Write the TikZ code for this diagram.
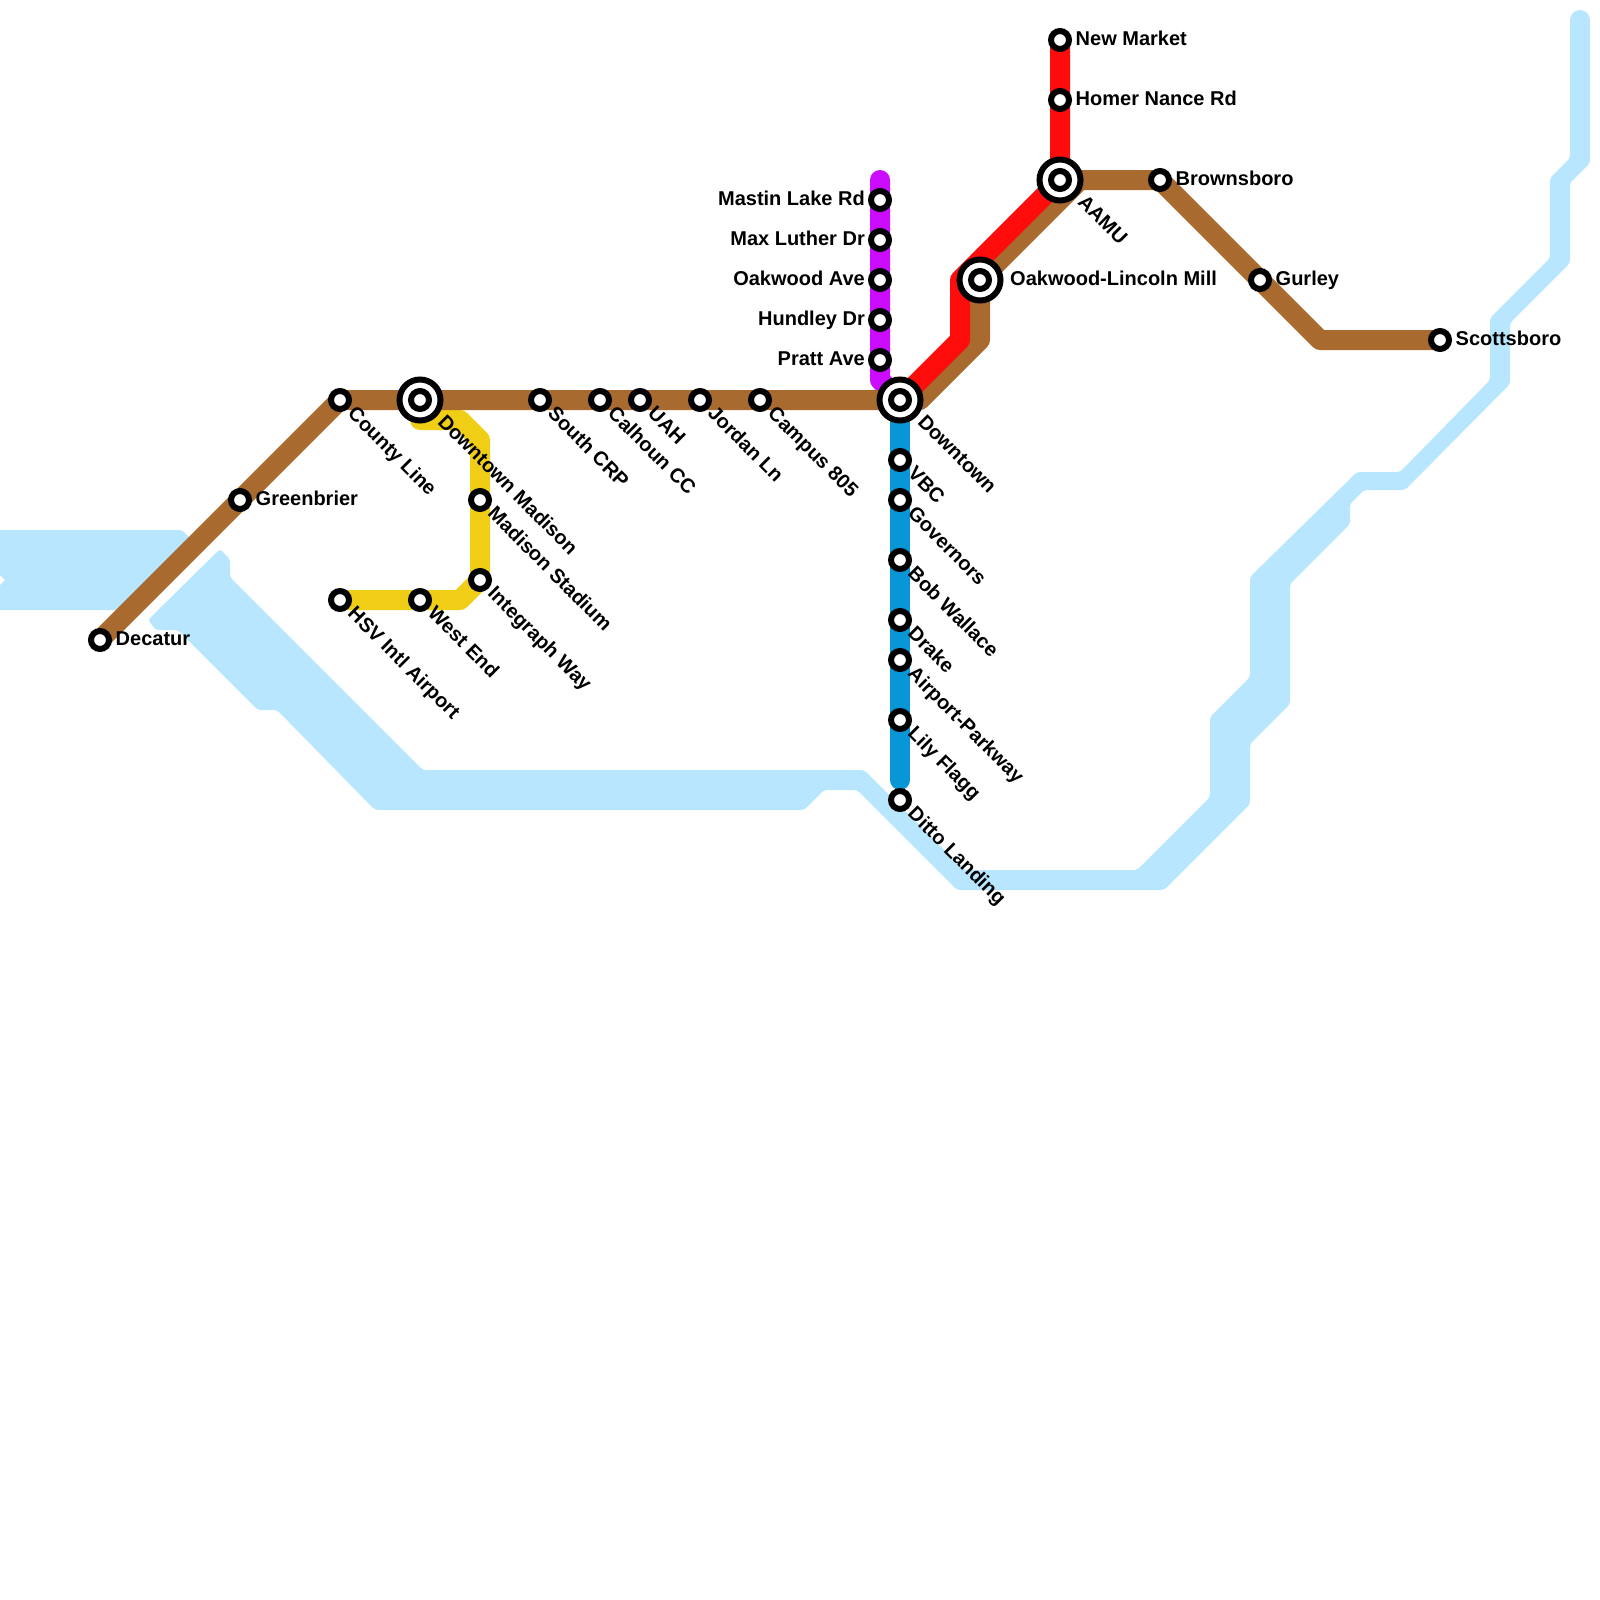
\documentclass[tikz,border=0pt]{standalone}
\usepackage{fontspec}
\setmainfont{Liberation Sans}
\usetikzlibrary{calc}
\pgfdeclarelayer{bg}
\pgfsetlayers{bg,main}
\definecolor{water}{HTML}{B8E6FF}
\definecolor{brownline}{HTML}{A86A2E}
\definecolor{redline}{HTML}{FF0D0D}
\definecolor{yellowline}{HTML}{F0CE15}
\definecolor{blueline}{HTML}{0896D7}
\definecolor{purpleline}{HTML}{CC0CFF}
\tikzset{
  stn/.style={circle,draw=black,fill=white,line width=6pt,outer sep=0pt,minimum size=18pt,inner sep=0pt},
  hub/.style={circle,draw=black,fill=white,line width=6pt,outer sep=0pt,minimum size=41pt,inner sep=0pt},
  lab/.style={font=\fontsize{20}{23}\selectfont\bfseries,inner sep=0pt,text=black,text height=14pt,text depth=4pt},
  diaglab/.style={lab,anchor=west,rotate=-45},
  rightlab/.style={lab,anchor=west},
  leftlab/.style={lab,anchor=east},
  metro/.style={line width=20pt,line cap=round,line join=round},
  waterbody/.style={fill=water,draw=none,rounded corners=3pt}
}
\begin{document}
\begin{tikzpicture}[x=1pt,y=-1pt]
\useasboundingbox (0,0) rectangle (1600,1600);
% stations
\foreach \n/\x/\y in {decatur/100/640,greenbrier/240/500,county/340/400,southcrp/540/400,calhoun/600/400,uah/640/400,jordan/700/400,campus/760/400,
  vbc/900/460,governors/900/500,bobwallace/900/560,drake/900/620,airport/900/660,lily/900/720,ditto/900/800,
  mastin/880/200,maxluther/880/240,oakave/880/280,hundley/880/320,pratt/880/360,
  newmarket/1060/40,homer/1060/100,brownsboro/1160/180,gurley/1260/280,scottsboro/1440/340,
  hsv/340/600,westend/420/600,integraph/480/580,madstadium/480/500}
  {\node[stn] (\n) at (\x,\y) {};}
\foreach \n/\x/\y in {dtmadison/420/400,downtown/900/400,oakwood/980/280,aamu/1060/180}
  {\node[hub] (\n) at (\x,\y) {};\node[stn] (\n-in) at (\x,\y) {};}
% bends
\coordinate (b1) at (980,340);
\coordinate (b2) at (920,400);
\coordinate (b3) at (1080,180);
\coordinate (b4) at (1320,340);
\coordinate (b5) at (960,280);
\coordinate (b6) at (960,340);
\coordinate (y1) at (460,600);
\coordinate (y2) at (480,440);
\coordinate (y3) at (460,420);
\coordinate (y4) at (420,420);
\coordinate (p1) at (880,180);
\coordinate (p2) at (880,380);
\coordinate (bl1) at (900,780);
% labels
\foreach \n/\t in {county/County Line,southcrp/South CRP,calhoun/Calhoun CC,uah/UAH,jordan/Jordan Ln,campus/Campus 805,
  vbc/VBC,governors/Governors,bobwallace/Bob Wallace,drake/Drake,airport/Airport-Parkway,lily/Lily Flagg,ditto/Ditto Landing,
  hsv/HSV Intl Airport,westend/West End,integraph/Integraph Way,madstadium/Madison Stadium}
  {\node[diaglab] (\n-lab) at ($(\n)+(10.2,11.2)$) {\t};}
\node[diaglab] (dtmadison-lab) at ($(dtmadison)+(20.2,19.4)$) {Downtown Madison};
\node[diaglab] (downtown-lab) at ($(downtown)+(20.2,19.4)$) {Downtown};
\node[diaglab] (aamu-lab) at ($(aamu)+(20.2,19.4)$) {AAMU};
\foreach \n/\t in {decatur/Decatur,greenbrier/Greenbrier,newmarket/New Market,homer/Homer Nance Rd,brownsboro/Brownsboro,gurley/Gurley,scottsboro/Scottsboro}
  {\node[rightlab] (\n-lab) at ($(\n)+(15.5,0.5)$) {\t};}
\node[rightlab] (oakwood-lab) at ($(oakwood)+(30,0.5)$) {Oakwood-Lincoln Mill};
\foreach \n/\t in {mastin/Mastin Lake Rd,maxluther/Max Luther Dr,oakave/Oakwood Ave,hundley/Hundley Dr,pratt/Pratt Ave}
  {\node[leftlab] (\n-lab) at ($(\n)+(-15,0.5)$) {\t};}
\begin{pgfonlayer}{bg}
% water
\fill[waterbody] (-20,530) -- (182,530) -- (192,540) -- (122,610) -- (-20,610) -- (-20,595) -- (-10,595) [sharp corners] -- (5,580) -- (-10,565) [rounded corners=3pt] -- (-20,565) -- cycle;
\fill[waterbody] (220,549) -- (230,559) -- (230,577) -- (423,770) -- (864,770) -- (964,870) -- (1137,870) -- (1210,797) -- (1210,717) -- (1250,677) -- (1250,577) -- (1357,472) -- (1400,472) -- (1490,380) -- (1490,318) -- (1550,258) -- (1550,178) -- (1570,158) -- (1570,20) -- (1590,20) -- (1590,163) -- (1570,183) -- (1570,263) -- (1510,323) -- (1510,384) -- (1405,490) -- (1364,490) -- (1350,504) -- (1350,524) -- (1290,584) -- (1290,704) -- (1250,744) -- (1250,804) -- (1164,890) -- (957,890) -- (857,790) -- (824,790) -- (804,810) -- (375,810) -- (277,710) -- (258,710) -- (178,630) -- (156,630) -- (148,620) -- cycle;
\draw[water,metro] (1580,20) -- (1580,60);
% lines
\draw[purpleline,metro] (p1) -- (mastin.center) -- (maxluther.center) -- (oakave.center) -- (hundley.center) -- (pratt.center) -- (p2) -- (downtown.center);
\draw[blueline,metro] (downtown.center) -- (vbc.center) -- (governors.center) -- (bobwallace.center) -- (drake.center) -- (airport.center) -- (lily.center) -- (bl1);
\draw[yellowline,metro] (hsv.center) -- (westend.center) -- (y1) -- (integraph.center) -- (madstadium.center) -- (y2) -- (y3) -- (y4);
\draw[brownline,metro] (decatur.center) -- (greenbrier.center) -- (county.center) -- (dtmadison.center) -- (southcrp.center) -- (calhoun.center) -- (uah.center) -- (jordan.center) -- (campus.center) -- (downtown.center) -- (b2) -- (b1) -- (oakwood.center) -- (b3) -- (aamu.center);
\draw[brownline,metro] (b3) -- (brownsboro.center) -- (gurley.center) -- (b4) -- (scottsboro.center);
\draw[redline,metro] (newmarket.center) -- (homer.center) -- (aamu.center) -- (b5) -- (b6) -- (downtown.center);
\end{pgfonlayer}
\end{tikzpicture}
\end{document}
